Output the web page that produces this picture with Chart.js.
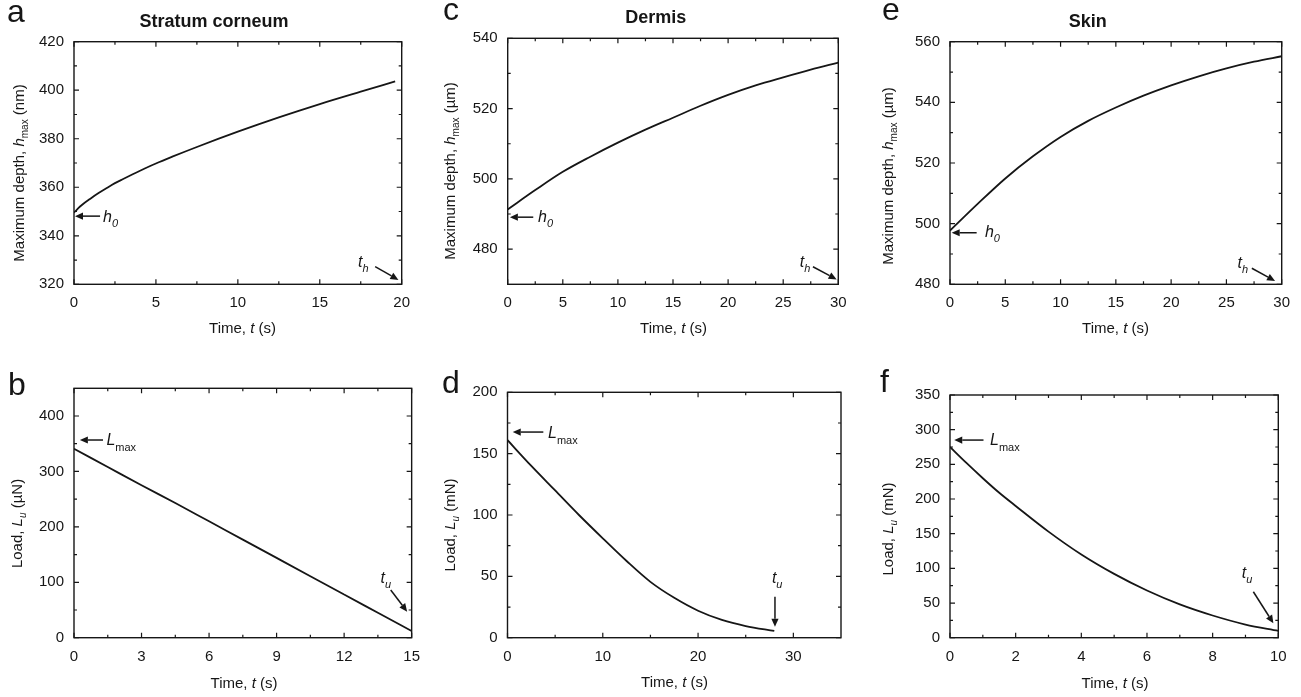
<!DOCTYPE html>
<html><head><meta charset="utf-8">
<script src="https://cdn.jsdelivr.net/npm/chart.js@4.4.0/dist/chart.umd.min.js"></script>
<style>
html,body{margin:0;padding:0;background:#fff;width:1301px;height:697px;overflow:hidden;}
canvas{position:absolute;}
</style></head><body>
<script>
// ---------- data ----------
const timeA  = [0, 0.25, 0.5, 1, 1.5, 2, 2.5, 3, 4, 5, 6, 7.5, 10, 12.5, 15, 17.5, 19.6];
const depthA = [349.5, 351.3, 352.8, 355.3, 357.6, 359.7, 361.7, 363.4, 366.7, 369.8, 372.6, 376.6, 382.9, 388.8, 394.3, 399.4, 403.6];

const timeC  = [0, 2.5, 5, 7.5, 10, 12.5, 15, 17.5, 20, 22.5, 25, 27.5, 30];
const depthC = [491.3, 496.8, 502.0, 506.3, 510.3, 514.0, 517.4, 520.8, 523.9, 526.6, 528.9, 531.1, 533.1];

const timeE  = [0, 2.5, 5, 7.5, 10, 12.5, 15, 17.5, 20, 22.5, 25, 27.5, 30];
const depthE = [497.7, 506.5, 514.9, 522.2, 528.6, 533.9, 538.3, 542.2, 545.6, 548.6, 551.2, 553.4, 555.2];

const timeB  = [0, 1.5, 3, 4.5, 6, 7.5, 9, 10.5, 12, 13.5, 15];
const loadB  = [341, 308, 275, 243, 210, 177, 144, 111, 78, 45, 12];

const timeD  = [0, 2.5, 5, 7.5, 10, 12.5, 15, 17.5, 20, 22.5, 25, 28];
const loadD  = [161, 140, 120, 100, 81, 62.5, 45.5, 32.5, 22, 14.5, 9.5, 5.5];

const timeF  = [0, 0.5, 1, 1.5, 2, 3, 4, 5, 6, 7, 8, 9, 10];
const loadF  = [275, 252, 230, 209, 190, 153, 120, 92, 68, 48, 32, 19, 10];

// tick labels
const xTicksA = [0, 5, 10, 15, 20];            const xMinorA = [2.5, 7.5, 12.5, 17.5];
const yTicksA = [320, 340, 360, 380, 400, 420]; const yMinorA = [330, 350, 370, 390, 410];
const xTicksC = [0, 5, 10, 15, 20, 25, 30];     const xMinorC = [2.5, 7.5, 12.5, 17.5, 22.5, 27.5];
const yTicksC = [480, 500, 520, 540];           const yMinorC = [490, 510, 530];
const xTicksE = [0, 5, 10, 15, 20, 25, 30];     const xMinorE = [2.5, 7.5, 12.5, 17.5, 22.5, 27.5];
const yTicksE = [480, 500, 520, 540, 560];      const yMinorE = [490, 510, 530, 550];
const xTicksB = [0, 3, 6, 9, 12, 15];           const xMinorB = [1.5, 4.5, 7.5, 10.5, 13.5];
const yTicksB = [0, 100, 200, 300, 400];        const yMinorB = [50, 150, 250, 350];
const xTicksD = [0, 10, 20, 30];                const xMinorD = [5, 15, 25];
const yTicksD = [0, 50, 100, 150, 200];         const yMinorD = [25, 75, 125, 175];
const xTicksF = [0, 2, 4, 6, 8, 10];            const xMinorF = [1, 3, 5, 7, 9];
const yTicksF = [0, 50, 100, 150, 200, 250, 300, 350]; const yMinorF = [25, 75, 125, 175, 225, 275, 325];

// ---------- styling ----------
const FONT = '"Liberation Sans", Arial, Helvetica, sans-serif';
const INK = '#161616';

const T_TIME = [{t:'Time, '},{t:'t',i:true},{t:' (s)'}];
const T_DEPTH = u => [{t:'Maximum depth, '},{t:'h',i:true},{t:'max',size:10,dy:4},{t:' ('+u+')'}];
const T_LOAD = u => [{t:'Load, '},{t:'L',i:true},{t:'u',i:true,size:10,dy:4},{t:' ('+u+')'}];
const L_H0 = [{t:'h',i:true},{t:'0',i:true,size:11,dy:5}];
const L_TH = [{t:'t',i:true},{t:'h',i:true,size:11,dy:5}];
const L_LMAX = [{t:'L',i:true},{t:'max',size:11,dy:6}];
const L_TU = [{t:'t',i:true},{t:'u',i:true,size:11,dy:5}];

const panels = [
 { id:'a', box:[0,0,430,345], plot:[74,41.7,401.7,284.3], t:timeA, v:depthA, xr:[0,20], yr:[320,420],
   xt:xTicksA, xm:xMinorA, yt:yTicksA, ym:yMinorA, letter:[7,22], title:['Stratum corneum',214,27.3],
   xTitle:[T_TIME,242.5,333], yTitle:[T_DEPTH('nm'),23.5,173],
   arrows:[[[1.59,348.1],[0.06,348.1]],[[18.38,327.3],[19.8,321.8]]],
   labels:[[L_H0,[1.77,345.7]],[L_TH,[17.34,327.1]]] },
 { id:'c', box:[430,0,865,345], plot:[507.7,38.3,838.3,284.3], t:timeC, v:depthC, xr:[0,30], yr:[470,540],
   xt:xTicksC, xm:xMinorC, yt:yTicksC, ym:yMinorC, letter:[443,20], title:['Dermis',655.8,23.3],
   xTitle:[T_TIME,673.5,333], yTitle:[T_DEPTH('µm'),455,171],
   arrows:[[[2.32,489.1],[0.2,489.1]],[[27.7,475],[29.85,471.4]]],
   labels:[[L_H0,[2.75,487.7]],[L_TH,[26.5,474.9]]] },
 { id:'e', box:[865,0,1301,345], plot:[950,41.7,1281.7,284.3], t:timeE, v:depthE, xr:[0,30], yr:[480,560],
   xt:xTicksE, xm:xMinorE, yt:yTicksE, ym:yMinorE, letter:[882,20], title:['Skin',1087.8,26.7],
   xTitle:[T_TIME,1115.5,333], yTitle:[T_DEPTH('µm'),893,176],
   arrows:[[[2.41,497],[0.15,497]],[[27.3,485.3],[29.4,481.1]]],
   labels:[[L_H0,[3.16,495.6]],[L_TH,[26.0,485.4]]] },
 { id:'b', box:[0,345,430,697], plot:[74,388.3,414.3,637.7], t:timeB, v:loadB, xr:[0,15], yr:[0,450],
   xt:xTicksB, xm:xMinorB, yt:yTicksB, ym:yMinorB, letter:[8,395], title:null,
   xTitle:[T_TIME,244,687.5], yTitle:[T_LOAD('µN'),22,523.5],
   arrows:[[[1.29,356.7],[0.26,356.7]],[[14.07,86],[14.8,47]]],
   labels:[[L_LMAX,[1.44,347.7]],[L_TU,[13.62,98.6]]] },
 { id:'d', box:[430,345,865,697], plot:[507.5,392.3,841,637.7], t:timeD, v:loadD, xr:[0,35], yr:[0,200],
   xt:xTicksD, xm:xMinorD, yt:yTicksD, ym:yMinorD, letter:[442,393], title:null,
   xTitle:[T_TIME,674.5,686.5], yTitle:[T_LOAD('mN'),455,525],
   arrows:[[[3.76,167.6],[0.55,167.6]],[[28.07,33.4],[28.07,9]]],
   labels:[[L_LMAX,[4.25,162.8]],[L_TU,[27.75,44.6]]] },
 { id:'f', box:[865,345,1301,697], plot:[950,395,1278.3,637.7], t:timeF, v:loadF, xr:[0,10], yr:[0,350],
   xt:xTicksF, xm:xMinorF, yt:yTicksF, ym:yMinorF, letter:[880,392], title:null,
   xTitle:[T_TIME,1115,687.5], yTitle:[T_LOAD('mN'),893,529],
   arrows:[[[1.02,285],[0.13,285]],[[9.24,66.3],[9.85,20.8]]],
   labels:[[L_LMAX,[1.22,277.9]],[L_TU,[8.89,86]]] }
];

function drawRich(ctx, parts, x, y, align, rot, baseSize) {
  ctx.save();
  ctx.translate(x, y);
  if (rot) ctx.rotate(-Math.PI / 2);
  ctx.textBaseline = 'alphabetic';
  ctx.fillStyle = INK;
  let w = 0;
  const segs = parts.map(p => {
    const size = p.size || baseSize;
    const font = (p.i ? 'italic ' : '') + (p.b ? 'bold ' : '') + size + 'px ' + FONT;
    ctx.font = font;
    const pw = ctx.measureText(p.t).width;
    w += pw;
    return {p, font, pw};
  });
  let cx = align === 'center' ? -w / 2 : (align === 'right' ? -w : 0);
  segs.forEach(s => { ctx.font = s.font; ctx.fillText(s.p.t, cx, s.p.dy || 0); cx += s.pw; });
  ctx.restore();
}

function drawArrow(ctx, x1, y1, x2, y2) {
  const a = Math.atan2(y2 - y1, x2 - x1), L = 8, W = 3.6;
  const bx = x2 - L * Math.cos(a), by = y2 - L * Math.sin(a);
  ctx.beginPath(); ctx.moveTo(x1, y1); ctx.lineTo(bx, by);
  ctx.lineWidth = 1.5; ctx.strokeStyle = INK; ctx.stroke();
  ctx.beginPath(); ctx.moveTo(x2, y2);
  ctx.lineTo(bx - W * Math.sin(a), by + W * Math.cos(a));
  ctx.lineTo(bx + W * Math.sin(a), by - W * Math.cos(a));
  ctx.closePath(); ctx.fillStyle = INK; ctx.fill();
}

function makeDecor(p) {
  return {
    id: 'decor_' + p.id,
    afterDatasetsDraw(chart) {
      const ctx = chart.ctx, ca = chart.chartArea, xs = chart.scales.x, ys = chart.scales.y;
      const ox = p.box[0], oy = p.box[1];
      ctx.save();
      ctx.strokeStyle = INK;
      ctx.lineWidth = 1.4;
      ctx.strokeRect(ca.left, ca.top, ca.right - ca.left, ca.bottom - ca.top);
      ctx.lineWidth = 1.2;
      ctx.beginPath();
      const xTick = (v, len) => { const x = xs.getPixelForValue(v);
        ctx.moveTo(x, ca.bottom); ctx.lineTo(x, ca.bottom - len);
        ctx.moveTo(x, ca.top); ctx.lineTo(x, ca.top + len); };
      const yTick = (v, len) => { const y = ys.getPixelForValue(v);
        ctx.moveTo(ca.left, y); ctx.lineTo(ca.left + len, y);
        ctx.moveTo(ca.right, y); ctx.lineTo(ca.right - len, y); };
      p.xt.forEach(v => xTick(v, 5)); p.xm.forEach(v => xTick(v, 3));
      p.yt.forEach(v => yTick(v, 5)); p.ym.forEach(v => yTick(v, 3));
      ctx.stroke();
      p.arrows.forEach(a => drawArrow(ctx,
        xs.getPixelForValue(a[0][0]), ys.getPixelForValue(a[0][1]),
        xs.getPixelForValue(a[1][0]), ys.getPixelForValue(a[1][1])));
      p.labels.forEach(l => drawRich(ctx, l[0], xs.getPixelForValue(l[1][0]), ys.getPixelForValue(l[1][1]), 'left', false, 16));
      drawRich(ctx, p.xTitle[0], p.xTitle[1] - ox, p.xTitle[2] - oy, 'center', false, 15);
      drawRich(ctx, p.yTitle[0], p.yTitle[1] - ox, p.yTitle[2] - oy, 'center', true, 15);
      if (p.title) drawRich(ctx, [{t:p.title[0], b:true}], p.title[1] - ox, p.title[2] - oy, 'center', false, 18);
      drawRich(ctx, [{t:p.id}], p.letter[0] - ox, p.letter[1] - oy, 'left', false, 32);
      ctx.restore();
    }
  };
}

panels.forEach(p => {
  const [bx0, by0, bx1, by1] = p.box;
  const [l, t, r, b] = p.plot;
  const cv = document.createElement('canvas');
  cv.width = bx1 - bx0; cv.height = by1 - by0;
  cv.style.left = bx0 + 'px'; cv.style.top = by0 + 'px';
  cv.style.width = (bx1 - bx0) + 'px'; cv.style.height = (by1 - by0) + 'px';
  document.body.appendChild(cv);
  const tickFont = {family: FONT, size: 15};
  new Chart(cv, {
    type: 'scatter',
    data: { datasets: [{
      data: p.t.map((x, i) => ({x, y: p.v[i]})),
      showLine: true, borderColor: INK, borderWidth: 1.8,
      pointRadius: 0, pointHoverRadius: 0, fill: false,
      cubicInterpolationMode: 'monotone'
    }]},
    options: {
      responsive: false, animation: false, devicePixelRatio: 1, events: [],
      layout: { padding: { top: t - by0, right: bx1 - r, left: 0, bottom: 0 } },
      plugins: { legend: {display: false}, tooltip: {enabled: false} },
      scales: {
        x: { type: 'linear', min: p.xr[0], max: p.xr[1],
             grid: {display: false, drawTicks: false}, border: {display: false},
             ticks: {font: tickFont, color: INK, padding: 10, maxRotation: 0, autoSkip: false},
             afterBuildTicks: s => { s.ticks = p.xt.map(v => ({value: v})); },
             afterFit: s => { s.height = by1 - b; } },
        y: { type: 'linear', min: p.yr[0], max: p.yr[1],
             grid: {display: false, drawTicks: false}, border: {display: false},
             ticks: {font: tickFont, color: INK, padding: 10, autoSkip: false},
             afterBuildTicks: s => { s.ticks = p.yt.map(v => ({value: v})); },
             afterFit: s => { s.width = l - bx0; } }
      }
    },
    plugins: [makeDecor(p)]
  });
});
</script>
</body></html>
